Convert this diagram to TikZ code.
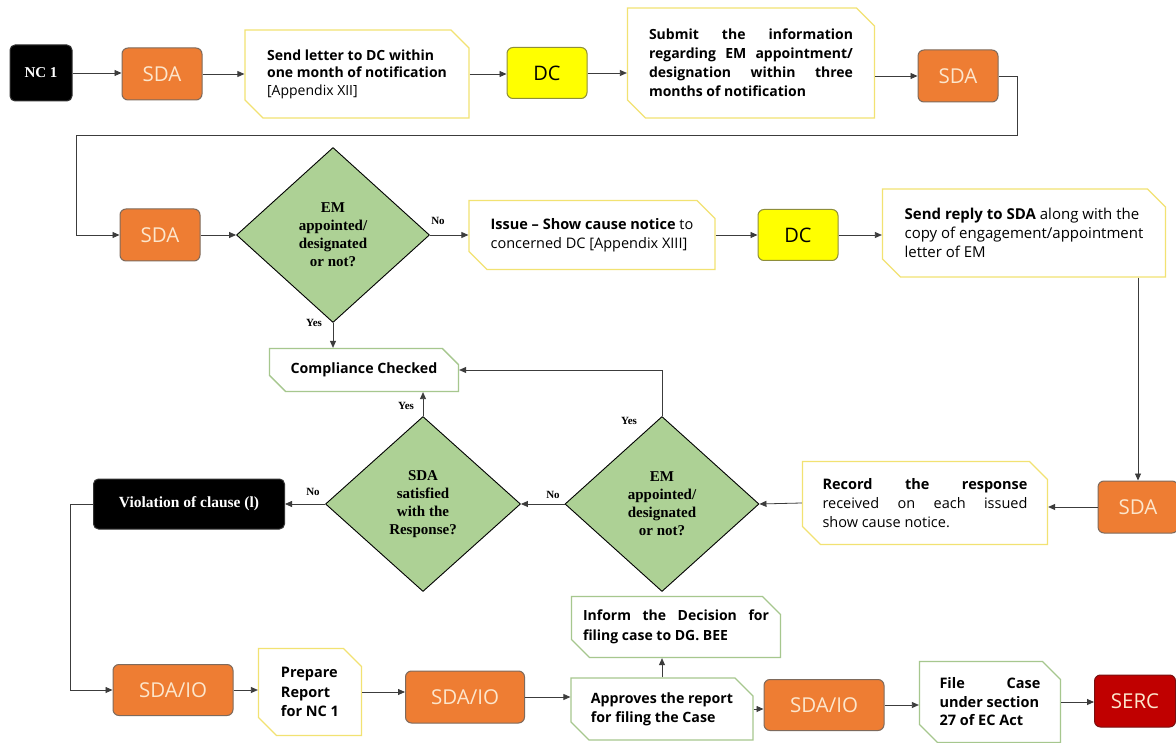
\documentclass[tikz,border=0pt]{standalone}
\usepackage{fontspec}
\setmainfont{Liberation Serif}
\setsansfont{Open Sans}
\usetikzlibrary{shapes.geometric,shapes.misc,arrows.meta}
\definecolor{orng}{HTML}{EE7D33}
\definecolor{orngb}{HTML}{7E6A5C}
\definecolor{cream}{HTML}{FCE6CC}
\definecolor{ylw}{HTML}{FFFF00}
\definecolor{ylwb}{HTML}{8E8E3A}
\definecolor{grn}{HTML}{ADD195}
\definecolor{ybord}{HTML}{F2E272}
\definecolor{gbord}{HTML}{A6C78E}
\definecolor{serc}{HTML}{C00000}
\definecolor{sercb}{HTML}{7A1010}
\definecolor{linec}{HTML}{3C3C3C}
\newcommand{\fsz}[2]{\fontsize{#1}{#2}\selectfont}
\newcommand{\jl}[2]{\makebox[#1][s]{#2}}
\begin{document}
\begin{tikzpicture}[x=1pt,y=-1pt,
  conn/.style={draw=linec, line width=0.8pt, -{Triangle[length=7pt,width=6pt]}},
  sda/.style={rounded corners=6pt, fill=orng, draw=orngb, line width=1pt, minimum width=80pt, minimum height=52pt, inner sep=0pt, text=cream, font=\sffamily\fsz{20.5}{24}},
  dcbox/.style={rounded corners=6pt, fill=ylw, draw=ylwb, line width=1pt, minimum width=80pt, minimum height=51pt, inner sep=0pt, font=\sffamily\fsz{20}{24}},
  blk/.style={rounded corners=5pt, fill=black, draw=black!80, line width=1pt, inner sep=0pt, text=white},
  snipbox/.style={chamfered rectangle, chamfered rectangle corners={north east,south west}, chamfered rectangle xsep=9pt, chamfered rectangle ysep=9pt, fill=white, line width=1.3pt, inner sep=0pt, align=left, font=\sffamily},
  ysnip/.style={snipbox, draw=ybord},
  gsnip/.style={snipbox, draw=gbord},
  dia/.style={diamond, fill=grn, draw=black, line width=0.9pt, inner sep=0pt, align=center, font=\bfseries\fsz{15}{18}},
  lab/.style={inner sep=0pt, font=\bfseries\fsz{11}{13}}
]
\fill[white] (0,0) rectangle (1176,743);
\useasboundingbox (0,0) rectangle (1176,743);

% Row 1
\node[blk, minimum width=62pt, minimum height=56pt, font=\bfseries\fsz{15}{18}] (nc) at (41,73) {NC 1};
\node[sda] (s1) at (162,74) {SDA};
\node[ysnip, minimum width=224pt, minimum height=88pt, font=\sffamily\fsz{14}{17.5}] (send) at (357,74)
  {{\bfseries Send letter to DC within}\\{\bfseries one month of notification}\\{}[Appendix XII]};
\node[dcbox] (dc1) at (547,73) {DC};
\node[ysnip, minimum width=247pt, minimum height=110pt, font=\sffamily\bfseries\fsz{14}{19}] (sub) at (751,63)
  {\jl{204pt}{Submit the information}\\\jl{204pt}{regarding EM appointment/}\\\jl{204pt}{designation within three}\\months of notification};
\node[sda] (s2) at (958,76) {SDA};

% Row 2
\node[sda] (s3) at (160,235) {SDA};
\node[dia, minimum width=193pt, minimum height=175pt] (d1) at (333,235) {EM\\appointed/\\designated\\or not?};
\node[ysnip, minimum width=246pt, minimum height=69pt, font=\sffamily\fsz{14.5}{19}] (iss) at (592,235)
  {{\bfseries Issue -- Show cause notice} to\\concerned DC [Appendix XIII]};
\node[dcbox] (dc2) at (798,235) {DC};
\node[ysnip, minimum width=283pt, minimum height=88pt, font=\sffamily\fsz{15}{19}] (rep) at (1024,233)
  {{\bfseries Send reply to SDA} along with the\\copy of engagement/appointment\\letter of EM};

% Compliance
\node[gsnip, minimum width=189pt, minimum height=43pt, font=\sffamily\bfseries\fsz{14.2}{18}] (comp) at (364,370) {Compliance Checked};

% Row 4
\node[blk, minimum width=191pt, minimum height=50pt, font=\bfseries\fsz{15.5}{18}] (viol) at (189,504) {Violation of clause (l)};
\node[dia, minimum width=195pt, minimum height=175pt] (d3) at (423,504) {SDA\\satisfied\\with the\\Response?};
\node[dia, minimum width=194pt, minimum height=175pt] (d2) at (662,504) {EM\\appointed/\\designated\\or not?};
\node[ysnip, minimum width=245pt, minimum height=83pt, font=\sffamily\fsz{14.5}{19}] (rec) at (925,503)
  {\jl{205pt}{\bfseries Record the response}\\\jl{205pt}{received on each issued}\\show cause notice.};
\node[sda] (s4) at (1138,507) {SDA};

% Row 5
\node[sda, minimum width=120pt, minimum height=51pt] (io1) at (173,690) {SDA/IO};
\node[ysnip, minimum width=103pt, minimum height=87pt, font=\sffamily\bfseries\fsz{14.5}{19.5}] (prep) at (310,692)
  {Prepare\\Report\\for NC 1};
\node[sda, minimum width=119pt, minimum height=52pt] (io2) at (465,697) {SDA/IO};
\node[gsnip, minimum width=209pt, minimum height=61pt, font=\sffamily\bfseries\fsz{14}{20}] (inf) at (676,627)
  {\jl{186pt}{Inform the Decision for}\\filing case to DG. BEE};
\node[gsnip, minimum width=182pt, minimum height=62pt, font=\sffamily\bfseries\fsz{14.2}{19}] (appr) at (662,709)
  {Approves the report\\for filing the Case};
\node[sda, minimum width=120pt, minimum height=51pt] (io3) at (824,705) {SDA/IO};
\node[gsnip, minimum width=141pt, minimum height=81pt, font=\sffamily\bfseries\fsz{14.5}{18.5}] (file) at (990,702)
  {\jl{101pt}{File Case}\\under section\\27 of EC Act};
\node[sda, fill=serc, draw=sercb, minimum width=81pt] (serc) at (1135,701) {SERC};

% Labels
\node[lab] (no1) at (438,221) {No};
\node[lab] (yes1) at (314,323) {Yes};
\node[lab] (yes2) at (629,421) {Yes};
\node[lab] (yes3) at (406,406) {Yes};
\node[lab] (no2) at (553,495) {No};
\node[lab] (no3) at (313,492) {No};

% Helper coordinates
\coordinate (c1) at (1017,135);
\coordinate (c2) at (76,135);
\coordinate (c3) at (70,600);

% Connectors
\draw[conn] (nc.east) -- (nc.east -| s1.west);
\draw[conn] (s1.east) -- (s1.east -| send.west);
\draw[conn] (send.east) -- (send.east -| dc1.west);
\draw[conn] (dc1.east) -- (dc1.east -| sub.west);
\draw[conn] (sub.east |- s2.west) -- (s2.west);
\draw[conn] (s2.east) -| (c1) -- (c2) |- (s3.west);
\draw[conn] (s3.east) -- (d1.west);
\draw[conn] (d1.east) -- (d1.east -| iss.west);
\draw[conn] (iss.east) -- (iss.east -| dc2.west);
\draw[conn] (dc2.east) -- (dc2.east -| rep.west);
\draw[conn] (rep.south -| s4.north) -- (s4.north);
\draw[conn] (d1.south) -- (d1.south |- comp.north);
\draw[conn] (d2.north) |- (comp.east);
\draw[conn] (d3.north) -- (d3.north |- comp.south);
\draw[conn] (s4.west) -- (s4.west -| rec.east);
\draw[conn] (rec.west) -- (d2.east);
\draw[conn] (d2.west) -- (d3.east);
\draw[conn] (d3.west) -- (d3.west -| viol.east);
\draw[conn] (viol.west) -- (viol.west -| c3) |- (io1.west);
\draw[conn] (io1.east) -- (io1.east -| prep.west);
\draw[conn] (prep.east) -- (prep.east -| io2.west);
\draw[conn] (io2.east) -- (io2.east -| appr.west);
\draw[conn] (appr.north) -- (appr.north |- inf.south);
\draw[conn] (appr.east) -- (appr.east -| io3.west);
\draw[conn] (io3.east) -- (io3.east -| file.west);
\draw[conn] (file.east) -- (file.east -| serc.west);
\end{tikzpicture}
\end{document}
